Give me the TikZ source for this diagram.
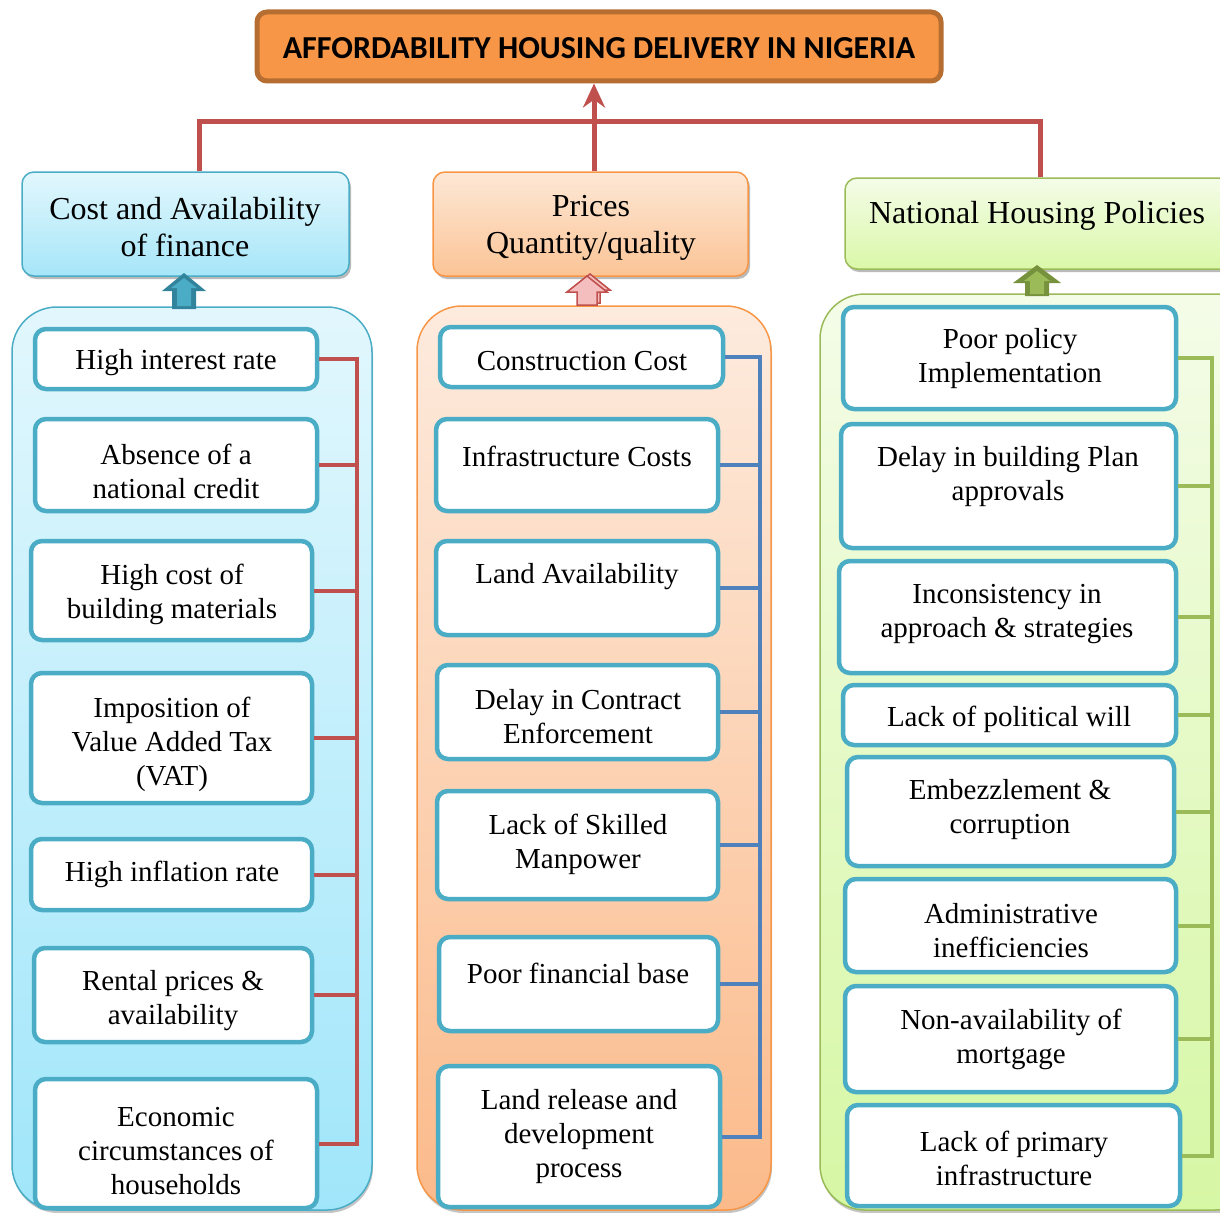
\documentclass[tikz,border=0pt]{standalone}
\usepackage{fontspec}
\setmainfont{Liberation Serif}
\newfontfamily\titlefont{Carlito}
\usetikzlibrary{fit,shadows,arrows.meta}
\definecolor{redc}{HTML}{C0504D}
\definecolor{bluec}{HTML}{4F81BD}
\definecolor{greenc}{HTML}{9BBB59}
\definecolor{greendk}{HTML}{76923C}
\definecolor{itemc}{HTML}{4BACC6}
\definecolor{tealdk}{HTML}{31849B}
\definecolor{orangec}{HTML}{F79646}
\definecolor{orangedk}{HTML}{B66D31}
\tikzset{
  ibox/.style={draw=itemc, line width=4.5pt, rounded corners=11pt, fill=white, inner sep=0pt},
  itxt/.style={font=\fontsize{29}{34}\selectfont, align=center, inner sep=0pt, yshift=-3pt},
  htxt/.style={font=\fontsize{32}{37}\selectfont, align=center, inner sep=0pt, yshift=-3.5pt},
  hdr/.style={line width=1.5pt, rounded corners=12pt, inner sep=0pt,
     drop shadow={shadow xshift=2pt, shadow yshift=-3pt, fill=black!45, opacity=0.6}},
  panel/.style={line width=1.5pt, rounded corners=45pt, inner sep=0pt,
     drop shadow={shadow xshift=1pt, shadow yshift=-3pt, fill=black!45, opacity=0.5}},
  redbus/.style={draw=redc, line width=4pt},
  bluebus/.style={draw=bluec, line width=4pt},
  greenbus/.style={draw=greenc, line width=4pt},
  topline/.style={draw=redc, line width=5pt},
}
\begin{document}
\begin{tikzpicture}[x=1pt,y=-1pt]
\useasboundingbox (0,0) rectangle (1220,1212);
\clip (0,0) rectangle (1220,1212);

% title
\node[fit={(257,12) (941,81)}, inner sep=0pt, fill=orangec, draw=orangedk, line width=5pt, rounded corners=10pt] (title) {};
\node[font=\titlefont\bfseries\fontsize{32}{36}\selectfont, inner sep=0pt] (titletxt) at (599,48) {AFFORDABILITY HOUSING DELIVERY IN NIGERIA};

% panels
\node[panel, fit={(12,307) (372,1210)}, draw=itemc, top color={rgb,255:red,226;green,247;blue,253}, bottom color={rgb,255:red,160;green,230;blue,250}] (pL) {};
\node[panel, fit={(417,306) (771,1210)}, draw=orangec, top color={rgb,255:red,253;green,235;blue,222}, bottom color={rgb,255:red,251;green,186;blue,138}] (pM) {};
\node[panel, fit={(820,294) (1260,1210)}, draw=greenc, top color={rgb,255:red,244;green,252;blue,232}, bottom color={rgb,255:red,214;green,247;blue,164}] (pR) {};

% headers
\node[hdr, fit={(22,172) (349,276)}, draw=itemc, top color={rgb,255:red,226;green,247;blue,253}, bottom color={rgb,255:red,166;green,230;blue,248}] (hL) {};
\node[htxt] (hLt) at (185,224) {Cost and Availability\\of finance};
\node[hdr, fit={(433,172) (748,276)}, draw=orangec, top color={rgb,255:red,253;green,232;blue,214}, bottom color={rgb,255:red,251;green,196;blue,150}] (hM) {};
\node[htxt] (hMt) at (591,224) {Prices\\Quantity/quality};
\node[hdr, fit={(845,178) (1235,269)}, draw=greenc, top color={rgb,255:red,244;green,252;blue,232}, bottom color={rgb,255:red,218;green,248;blue,168}] (hR) {};
\node[htxt] (hRt) at (1037,212) {National Housing Policies};

% block arrows
\fill[tealdk] (172,309) -- (172,291) -- (162,291) -- (184,273) -- (206,291) -- (196,291) -- (196,309) -- cycle;
\fill[itemc] (177,306) -- (177,288) -- (171,288) -- (184,278) -- (197,288) -- (191,288) -- (191,306) -- cycle;
\draw[redc, fill={rgb,255:red,245;green,190;blue,190}, line width=1.5pt] (580,303) -- (580,290) -- (570,290) -- (590,274) -- (610,290) -- (600,290) -- (600,303) -- cycle;
\draw[redc, fill={rgb,255:red,245;green,190;blue,190}, line width=1.5pt] (577,305) -- (577,292) -- (567,292) -- (587,276) -- (607,292) -- (597,292) -- (597,305) -- cycle;
\fill[greendk] (1025,296) -- (1025,283) -- (1013,283) -- (1037,265) -- (1061,283) -- (1049,283) -- (1049,296) -- cycle;
\fill[greenc] (1030,294) -- (1030,281) -- (1024,281) -- (1037,271) -- (1050,281) -- (1044,281) -- (1044,294) -- cycle;

% top connectors
\coordinate (bus) at (594,122);
\draw[topline] ([xshift=13.5pt]hL.north) |- (bus) -| (hR.north);
\draw[topline, -{Stealth[length=24pt, width=22pt]}] (bus |- hM.north) -- (bus |- title.south);

% left items
\node[ibox, fit={(35,329) (317,389)}] (L1) {};
\node[itxt] (L1t) at (176,360) {High interest rate};
\node[ibox, fit={(35,419) (317,511)}] (L2) {};
\node[itxt] (L2t) at (176,468) {Absence of a\\national credit};
\node[ibox, fit={(31,541) (312,640)}] (L3) {};
\node[itxt] (L3t) at (172,591) {High cost of\\building materials};
\node[ibox, fit={(31,673) (312,803)}] (L4) {};
\node[itxt] (L4t) at (172,741) {Imposition of\\Value Added Tax\\(VAT)};
\node[ibox, fit={(31,839) (312,910)}] (L5) {};
\node[itxt] (L5t) at (172,871) {High inflation rate};
\node[ibox, fit={(34,948) (312,1042)}] (L6) {};
\node[itxt] (L6t) at (173,998) {Rental prices \&\\availability};
\node[ibox, fit={(35,1079) (317,1208)}] (L7) {};
\node[itxt] (L7t) at (176,1148) {Economic\\circumstances of\\households};

\coordinate (busL) at (357,0);
\draw[redbus] (L1.east) -- (L1.east -| busL) -- (L7.east -| busL) -- (L7.east);
\foreach \n in {L2,L3,L4,L5,L6} \draw[redbus] (\n.east) -- (\n.east -| busL);

% middle items
\node[ibox, fit={(440,327) (723,387)}] (M1) {};
\node[itxt] (M1t) at (582,358) {Construction Cost};
\node[ibox, fit={(436,419) (718,511)}] (M2) {};
\node[itxt] (M2t) at (577,453) {Infrastructure Costs};
\node[ibox, fit={(436,541) (718,635)}] (M3) {};
\node[itxt] (M3t) at (577,574) {Land Availability};
\node[ibox, fit={(437,665) (718,759)}] (M4) {};
\node[itxt] (M4t) at (578,714) {Delay in Contract\\Enforcement};
\node[ibox, fit={(437,791) (718,899)}] (M5) {};
\node[itxt] (M5t) at (578,841) {Lack of Skilled\\Manpower};
\node[ibox, fit={(439,937) (718,1031)}] (M6) {};
\node[itxt] (M6t) at (578,970) {Poor financial base};
\node[ibox, fit={(438,1066) (720,1207)}] (M7) {};
\node[itxt] (M7t) at (579,1134) {Land release and\\development\\process};

\coordinate (busM) at (760,0);
\draw[bluebus] (M1.east) -- (M1.east -| busM) -- (M7.east -| busM) -- (M7.east);
\foreach \n in {M2,M3,M4,M5,M6} \draw[bluebus] (\n.east) -- (\n.east -| busM);

% right items
\node[ibox, fit={(843,307) (1176,409)}] (R1) {};
\node[itxt] (R1t) at (1010,356) {Poor policy\\Implementation};
\node[ibox, fit={(841,424) (1176,548)}] (R2) {};
\node[itxt] (R2t) at (1008,474) {Delay in building Plan\\approvals};
\node[ibox, fit={(839,561) (1176,673)}] (R3) {};
\node[itxt] (R3t) at (1007,611) {Inconsistency in\\approach \& strategies};
\node[ibox, fit={(843,685) (1176,745)}] (R4) {};
\node[itxt] (R4t) at (1009,716) {Lack of political will};
\node[ibox, fit={(847,757) (1174,866)}] (R5) {};
\node[itxt] (R5t) at (1010,807) {Embezzlement \&\\corruption};
\node[ibox, fit={(845,879) (1176,972)}] (R6) {};
\node[itxt] (R6t) at (1011,928) {Administrative\\inefficiencies};
\node[ibox, fit={(845,986) (1176,1092)}] (R7) {};
\node[itxt] (R7t) at (1011,1036) {Non-availability of\\mortgage};
\node[ibox, fit={(847,1105) (1180,1206)}] (R8) {};
\node[itxt] (R8t) at (1014,1155) {Lack of primary\\infrastructure};

\coordinate (busR) at (1212,0);
\draw[greenbus] (R1.east) -- (R1.east -| busR) -- (R8.east -| busR) -- (R8.east);
\foreach \n in {R2,R3,R4,R5,R6,R7} \draw[greenbus] (\n.east) -- (\n.east -| busR);
\end{tikzpicture}
\end{document}
